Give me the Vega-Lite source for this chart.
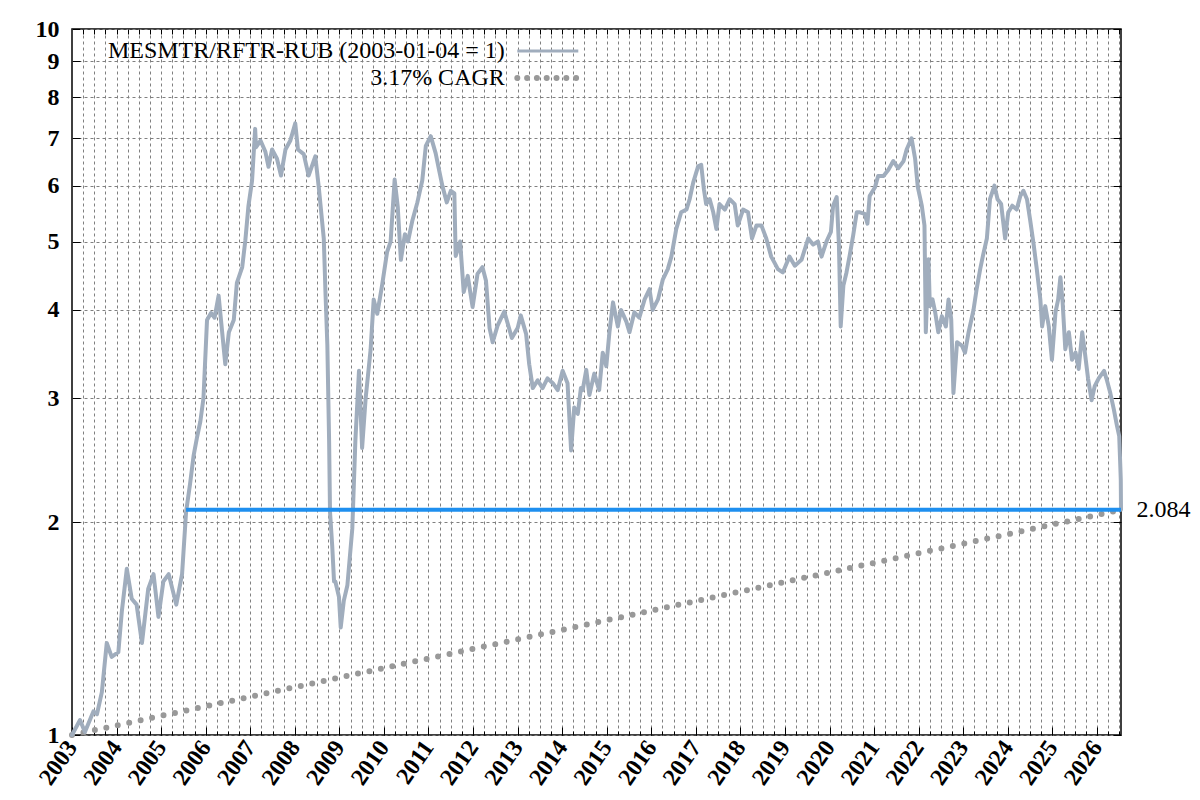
{
  "$schema": "https://vega.github.io/schema/vega-lite/v6.json",
  "width": 1049,
  "height": 706,
  "autosize": {"type": "none"},
  "padding": {"left": 72, "top": 29, "right": 79, "bottom": 65},
  "background": "white",
  "config": {
    "view": {"stroke": "black", "strokeWidth": 1.5},
    "axis": {
      "labelFont": "Liberation Serif",
      "labelFontSize": 24,
      "labelFontWeight": "bold",
      "labelColor": "black",
      "tickColor": "black",
      "tickWidth": 1,
      "domain": false,
      "labelFlush": false,
      "labelOverlap": false,
      "labelBound": false,
      "title": null,
      "gridColor": "#808080",
      "gridDash": [3, 3],
      "gridWidth": 1,
      "gridOpacity": 1
    }
  },
  "datasets": {
    "series": [
      {"t": 2003.0, "v": 1.0}, {"t": 2003.18, "v": 1.05}, {"t": 2003.29, "v": 1.01}, {"t": 2003.48, "v": 1.08},
      {"t": 2003.56, "v": 1.07}, {"t": 2003.67, "v": 1.15}, {"t": 2003.78, "v": 1.35}, {"t": 2003.89, "v": 1.29},
      {"t": 2004.04, "v": 1.31}, {"t": 2004.12, "v": 1.5}, {"t": 2004.23, "v": 1.72}, {"t": 2004.34, "v": 1.56},
      {"t": 2004.45, "v": 1.53}, {"t": 2004.57, "v": 1.35}, {"t": 2004.71, "v": 1.61}, {"t": 2004.83, "v": 1.69},
      {"t": 2004.94, "v": 1.47}, {"t": 2005.05, "v": 1.65}, {"t": 2005.17, "v": 1.69}, {"t": 2005.34, "v": 1.53},
      {"t": 2005.47, "v": 1.69}, {"t": 2005.56, "v": 2.07}, {"t": 2005.65, "v": 2.27}, {"t": 2005.73, "v": 2.49},
      {"t": 2005.8, "v": 2.63}, {"t": 2005.88, "v": 2.78}, {"t": 2005.95, "v": 3.0}, {"t": 2006.03, "v": 3.87},
      {"t": 2006.12, "v": 3.96}, {"t": 2006.2, "v": 3.9}, {"t": 2006.29, "v": 4.19}, {"t": 2006.37, "v": 3.72},
      {"t": 2006.44, "v": 3.35}, {"t": 2006.52, "v": 3.72}, {"t": 2006.63, "v": 3.87}, {"t": 2006.7, "v": 4.37},
      {"t": 2006.82, "v": 4.6}, {"t": 2006.89, "v": 5.02}, {"t": 2006.96, "v": 5.62}, {"t": 2007.04, "v": 6.09},
      {"t": 2007.11, "v": 7.22}, {"t": 2007.13, "v": 6.8}, {"t": 2007.23, "v": 6.95}, {"t": 2007.34, "v": 6.7},
      {"t": 2007.41, "v": 6.38}, {"t": 2007.49, "v": 6.75}, {"t": 2007.6, "v": 6.55}, {"t": 2007.69, "v": 6.2},
      {"t": 2007.79, "v": 6.75}, {"t": 2007.9, "v": 6.95}, {"t": 2008.01, "v": 7.35}, {"t": 2008.07, "v": 6.75},
      {"t": 2008.2, "v": 6.65}, {"t": 2008.31, "v": 6.2}, {"t": 2008.46, "v": 6.6}, {"t": 2008.54, "v": 5.95},
      {"t": 2008.65, "v": 5.05}, {"t": 2008.69, "v": 4.2}, {"t": 2008.73, "v": 3.57}, {"t": 2008.77, "v": 2.6},
      {"t": 2008.79, "v": 2.07}, {"t": 2008.84, "v": 1.85}, {"t": 2008.88, "v": 1.65}, {"t": 2008.91, "v": 1.65},
      {"t": 2008.99, "v": 1.57}, {"t": 2009.03, "v": 1.42}, {"t": 2009.1, "v": 1.55}, {"t": 2009.18, "v": 1.63},
      {"t": 2009.29, "v": 1.96}, {"t": 2009.36, "v": 2.62}, {"t": 2009.44, "v": 3.28}, {"t": 2009.51, "v": 2.55},
      {"t": 2009.59, "v": 3.0}, {"t": 2009.7, "v": 3.51}, {"t": 2009.77, "v": 4.14}, {"t": 2009.85, "v": 3.95},
      {"t": 2009.96, "v": 4.34}, {"t": 2010.07, "v": 4.83}, {"t": 2010.15, "v": 5.0}, {"t": 2010.24, "v": 6.12},
      {"t": 2010.31, "v": 5.6}, {"t": 2010.38, "v": 4.71}, {"t": 2010.47, "v": 5.12}, {"t": 2010.54, "v": 5.0},
      {"t": 2010.64, "v": 5.36}, {"t": 2010.75, "v": 5.68}, {"t": 2010.86, "v": 6.1}, {"t": 2010.94, "v": 6.83},
      {"t": 2011.05, "v": 7.05}, {"t": 2011.16, "v": 6.67}, {"t": 2011.24, "v": 6.3}, {"t": 2011.31, "v": 6.0},
      {"t": 2011.41, "v": 5.68}, {"t": 2011.5, "v": 5.9}, {"t": 2011.58, "v": 5.85}, {"t": 2011.61, "v": 4.77},
      {"t": 2011.71, "v": 5.0}, {"t": 2011.79, "v": 4.24}, {"t": 2011.88, "v": 4.47}, {"t": 2011.99, "v": 4.04},
      {"t": 2012.1, "v": 4.5}, {"t": 2012.21, "v": 4.6}, {"t": 2012.29, "v": 4.4}, {"t": 2012.37, "v": 3.77},
      {"t": 2012.44, "v": 3.6}, {"t": 2012.55, "v": 3.8}, {"t": 2012.7, "v": 3.98}, {"t": 2012.87, "v": 3.65},
      {"t": 2013.0, "v": 3.77}, {"t": 2013.07, "v": 3.93}, {"t": 2013.19, "v": 3.7}, {"t": 2013.26, "v": 3.35},
      {"t": 2013.34, "v": 3.1}, {"t": 2013.45, "v": 3.18}, {"t": 2013.56, "v": 3.1}, {"t": 2013.67, "v": 3.2},
      {"t": 2013.79, "v": 3.15}, {"t": 2013.9, "v": 3.08}, {"t": 2014.01, "v": 3.28}, {"t": 2014.12, "v": 3.15},
      {"t": 2014.2, "v": 2.53}, {"t": 2014.27, "v": 2.91}, {"t": 2014.35, "v": 2.85}, {"t": 2014.42, "v": 3.1},
      {"t": 2014.46, "v": 3.08}, {"t": 2014.54, "v": 3.29}, {"t": 2014.61, "v": 3.03}, {"t": 2014.72, "v": 3.25},
      {"t": 2014.83, "v": 3.08}, {"t": 2014.91, "v": 3.48}, {"t": 2014.99, "v": 3.33}, {"t": 2015.06, "v": 3.72},
      {"t": 2015.14, "v": 4.1}, {"t": 2015.25, "v": 3.79}, {"t": 2015.32, "v": 4.0}, {"t": 2015.44, "v": 3.85},
      {"t": 2015.51, "v": 3.72}, {"t": 2015.62, "v": 3.97}, {"t": 2015.73, "v": 3.9}, {"t": 2015.85, "v": 4.14},
      {"t": 2015.96, "v": 4.28}, {"t": 2016.03, "v": 4.0}, {"t": 2016.15, "v": 4.14}, {"t": 2016.26, "v": 4.42},
      {"t": 2016.37, "v": 4.57}, {"t": 2016.45, "v": 4.76}, {"t": 2016.56, "v": 5.21}, {"t": 2016.67, "v": 5.5},
      {"t": 2016.79, "v": 5.55}, {"t": 2016.86, "v": 5.74}, {"t": 2016.94, "v": 6.06}, {"t": 2017.05, "v": 6.39},
      {"t": 2017.12, "v": 6.42}, {"t": 2017.18, "v": 5.93}, {"t": 2017.23, "v": 5.65}, {"t": 2017.31, "v": 5.74},
      {"t": 2017.39, "v": 5.5}, {"t": 2017.46, "v": 5.21}, {"t": 2017.53, "v": 5.65}, {"t": 2017.65, "v": 5.55},
      {"t": 2017.76, "v": 5.74}, {"t": 2017.87, "v": 5.65}, {"t": 2017.94, "v": 5.27}, {"t": 2018.06, "v": 5.55},
      {"t": 2018.17, "v": 5.5}, {"t": 2018.26, "v": 5.05}, {"t": 2018.36, "v": 5.27}, {"t": 2018.47, "v": 5.27},
      {"t": 2018.58, "v": 5.05}, {"t": 2018.69, "v": 4.76}, {"t": 2018.77, "v": 4.66}, {"t": 2018.84, "v": 4.57},
      {"t": 2018.95, "v": 4.52}, {"t": 2019.1, "v": 4.76}, {"t": 2019.22, "v": 4.62}, {"t": 2019.37, "v": 4.71},
      {"t": 2019.52, "v": 5.05}, {"t": 2019.63, "v": 4.95}, {"t": 2019.74, "v": 5.0}, {"t": 2019.82, "v": 4.76},
      {"t": 2019.93, "v": 5.0}, {"t": 2020.03, "v": 5.16}, {"t": 2020.08, "v": 5.62}, {"t": 2020.16, "v": 5.78},
      {"t": 2020.21, "v": 4.95}, {"t": 2020.25, "v": 3.79}, {"t": 2020.31, "v": 4.33}, {"t": 2020.38, "v": 4.52},
      {"t": 2020.46, "v": 4.81}, {"t": 2020.53, "v": 5.1}, {"t": 2020.61, "v": 5.5}, {"t": 2020.68, "v": 5.5},
      {"t": 2020.79, "v": 5.47}, {"t": 2020.85, "v": 5.3}, {"t": 2020.9, "v": 5.8}, {"t": 2021.02, "v": 5.97},
      {"t": 2021.09, "v": 6.19}, {"t": 2021.21, "v": 6.19}, {"t": 2021.32, "v": 6.32}, {"t": 2021.43, "v": 6.5},
      {"t": 2021.54, "v": 6.35}, {"t": 2021.66, "v": 6.5}, {"t": 2021.73, "v": 6.75}, {"t": 2021.84, "v": 7.0},
      {"t": 2021.92, "v": 6.55}, {"t": 2021.98, "v": 5.97}, {"t": 2022.07, "v": 5.62}, {"t": 2022.13, "v": 5.27},
      {"t": 2022.16, "v": 3.72}, {"t": 2022.22, "v": 4.72}, {"t": 2022.25, "v": 4.05}, {"t": 2022.31, "v": 4.14},
      {"t": 2022.37, "v": 3.97}, {"t": 2022.44, "v": 3.72}, {"t": 2022.52, "v": 3.92}, {"t": 2022.61, "v": 3.79},
      {"t": 2022.67, "v": 4.14}, {"t": 2022.73, "v": 3.88}, {"t": 2022.78, "v": 3.05}, {"t": 2022.86, "v": 3.6},
      {"t": 2022.97, "v": 3.56}, {"t": 2023.04, "v": 3.48}, {"t": 2023.12, "v": 3.72}, {"t": 2023.23, "v": 4.0},
      {"t": 2023.3, "v": 4.28}, {"t": 2023.38, "v": 4.57}, {"t": 2023.45, "v": 4.8}, {"t": 2023.53, "v": 5.05},
      {"t": 2023.6, "v": 5.74}, {"t": 2023.7, "v": 6.0}, {"t": 2023.77, "v": 5.74}, {"t": 2023.85, "v": 5.65},
      {"t": 2023.94, "v": 5.05}, {"t": 2024.01, "v": 5.5}, {"t": 2024.1, "v": 5.62}, {"t": 2024.2, "v": 5.55},
      {"t": 2024.28, "v": 5.8}, {"t": 2024.35, "v": 5.9}, {"t": 2024.43, "v": 5.74}, {"t": 2024.5, "v": 5.37},
      {"t": 2024.58, "v": 4.95}, {"t": 2024.65, "v": 4.57}, {"t": 2024.73, "v": 4.14}, {"t": 2024.77, "v": 3.79},
      {"t": 2024.84, "v": 4.05}, {"t": 2024.92, "v": 3.79}, {"t": 2024.99, "v": 3.4}, {"t": 2025.07, "v": 3.97},
      {"t": 2025.13, "v": 4.14}, {"t": 2025.18, "v": 4.45}, {"t": 2025.23, "v": 4.1}, {"t": 2025.29, "v": 3.52},
      {"t": 2025.37, "v": 3.72}, {"t": 2025.44, "v": 3.4}, {"t": 2025.52, "v": 3.48}, {"t": 2025.59, "v": 3.3},
      {"t": 2025.67, "v": 3.72}, {"t": 2025.73, "v": 3.48}, {"t": 2025.8, "v": 3.2}, {"t": 2025.88, "v": 2.98},
      {"t": 2025.95, "v": 3.12}, {"t": 2026.04, "v": 3.2}, {"t": 2026.16, "v": 3.28}, {"t": 2026.23, "v": 3.17},
      {"t": 2026.3, "v": 3.05}, {"t": 2026.38, "v": 2.89}, {"t": 2026.45, "v": 2.74}, {"t": 2026.5, "v": 2.65},
      {"t": 2026.525, "v": 2.4}, {"t": 2026.535, "v": 2.3}, {"t": 2026.54, "v": 2.084}
    ],
    "cagr": [
      {"t": 2003.0, "v": 1.0},
      {"t": 2026.54, "v": 2.084}
    ],
    "level": [
      {"t": 2005.56, "v": 2.084},
      {"t": 2026.54, "v": 2.084}
    ]
  },
  "resolve": {"axis": {"x": "independent", "y": "independent"}},
  "layer": [
    {
      "data": {"name": "cagr"},
      "mark": {"type": "line", "strokeWidth": 6, "strokeDash": [0, 11.7], "strokeCap": "round"},
      "encoding": {
        "x": {
          "field": "t",
          "type": "quantitative",
          "axis": {
            "orient": "bottom",
            "values": [2003, 2004, 2005, 2006, 2007, 2008, 2009, 2010, 2011, 2012, 2013, 2014, 2015, 2016, 2017, 2018, 2019, 2020, 2021, 2022, 2023, 2024, 2025, 2026],
            "format": "d",
            "grid": false,
            "tickSize": -8,
            "labelPadding": 16,
            "labelAngle": -55,
            "labelAlign": "right",
            "labelBaseline": "middle"
          }
        },
        "y": {
          "field": "v",
          "type": "quantitative",
          "axis": {
            "orient": "right",
            "values": [1, 2, 3, 4, 5, 6, 7, 8, 9, 10],
            "labels": false,
            "grid": false,
            "tickSize": -8
          }
        },
        "color": {"datum": "3.17% CAGR", "type": "nominal"}
      }
    },
    {
      "data": {"name": "series"},
      "mark": {"type": "line", "strokeWidth": 4, "strokeJoin": "round", "strokeCap": "round"},
      "encoding": {
        "x": {
          "field": "t",
          "type": "quantitative",
          "scale": {"domain": [2003, 2026.54], "nice": false, "zero": false},
          "axis": {
            "orient": "bottom",
            "values": [2003.25, 2003.5, 2003.75, 2004, 2004.25, 2004.5, 2004.75, 2005, 2005.25, 2005.5, 2005.75, 2006, 2006.25, 2006.5, 2006.75, 2007, 2007.25, 2007.5, 2007.75, 2008, 2008.25, 2008.5, 2008.75, 2009, 2009.25, 2009.5, 2009.75, 2010, 2010.25, 2010.5, 2010.75, 2011, 2011.25, 2011.5, 2011.75, 2012, 2012.25, 2012.5, 2012.75, 2013, 2013.25, 2013.5, 2013.75, 2014, 2014.25, 2014.5, 2014.75, 2015, 2015.25, 2015.5, 2015.75, 2016, 2016.25, 2016.5, 2016.75, 2017, 2017.25, 2017.5, 2017.75, 2018, 2018.25, 2018.5, 2018.75, 2019, 2019.25, 2019.5, 2019.75, 2020, 2020.25, 2020.5, 2020.75, 2021, 2021.25, 2021.5, 2021.75, 2022, 2022.25, 2022.5, 2022.75, 2023, 2023.25, 2023.5, 2023.75, 2024, 2024.25, 2024.5, 2024.75, 2025, 2025.25, 2025.5, 2025.75, 2026, 2026.25, 2026.5],
            "labels": false,
            "grid": true,
            "tickSize": -4
          }
        },
        "y": {
          "field": "v",
          "type": "quantitative",
          "scale": {"type": "log", "domain": [1, 10], "nice": false},
          "axis": {
            "orient": "left",
            "values": [1, 2, 3, 4, 5, 6, 7, 8, 9, 10],
            "format": "d",
            "grid": true,
            "tickSize": -8,
            "labelPadding": 21
          }
        },
        "color": {
          "datum": "MESMTR/RFTR-RUB (2003-01-04 = 1)",
          "type": "nominal",
          "scale": {
            "domain": ["MESMTR/RFTR-RUB (2003-01-04 = 1)", "3.17% CAGR"],
            "range": ["#a0adbd", "#999999"]
          },
          "legend": {
            "title": null,
            "orient": "none",
            "legendX": 463.8,
            "legendY": 10,
            "padding": 0,
            "offset": 0,
            "rowPadding": 3,
            "symbolType": "M-10,0H10",
            "symbolSize": 37.2,
            "symbolStrokeWidth": 3,
            "labelAlign": "right",
            "labelOffset": -55,
            "labelLimit": 700,
            "labelFont": "Liberation Serif",
            "labelFontSize": 24,
            "labelColor": "black",
            "encode": {
              "symbols": {
                "update": {
                  "strokeWidth": {"signal": "datum.label == '3.17% CAGR' ? 6 : 3"},
                  "strokeDash": {"signal": "datum.label == '3.17% CAGR' ? [0, 9.8] : [1, 0]"},
                  "strokeCap": {"signal": "datum.label == '3.17% CAGR' ? 'round' : 'butt'"}
                }
              }
            }
          }
        }
      }
    },
    {
      "data": {"name": "level"},
      "mark": {"type": "line", "color": "#1e8fef", "strokeWidth": 4},
      "encoding": {
        "x": {
          "field": "t",
          "type": "quantitative",
          "axis": {
            "orient": "top",
            "values": [2003.25, 2003.5, 2003.75, 2004, 2004.25, 2004.5, 2004.75, 2005, 2005.25, 2005.5, 2005.75, 2006, 2006.25, 2006.5, 2006.75, 2007, 2007.25, 2007.5, 2007.75, 2008, 2008.25, 2008.5, 2008.75, 2009, 2009.25, 2009.5, 2009.75, 2010, 2010.25, 2010.5, 2010.75, 2011, 2011.25, 2011.5, 2011.75, 2012, 2012.25, 2012.5, 2012.75, 2013, 2013.25, 2013.5, 2013.75, 2014, 2014.25, 2014.5, 2014.75, 2015, 2015.25, 2015.5, 2015.75, 2016, 2016.25, 2016.5, 2016.75, 2017, 2017.25, 2017.5, 2017.75, 2018, 2018.25, 2018.5, 2018.75, 2019, 2019.25, 2019.5, 2019.75, 2020, 2020.25, 2020.5, 2020.75, 2021, 2021.25, 2021.5, 2021.75, 2022, 2022.25, 2022.5, 2022.75, 2023, 2023.25, 2023.5, 2023.75, 2024, 2024.25, 2024.5, 2024.75, 2025, 2025.25, 2025.5, 2025.75, 2026, 2026.25, 2026.5],
            "labels": false,
            "grid": false,
            "tickSize": -5
          }
        },
        "y": {
          "field": "v",
          "type": "quantitative",
          "axis": {
            "orient": "right",
            "values": [2.084],
            "format": ".3f",
            "ticks": false,
            "grid": false,
            "labelPadding": 15,
            "labelFontWeight": "normal"
          }
        }
      }
    }
  ]
}
